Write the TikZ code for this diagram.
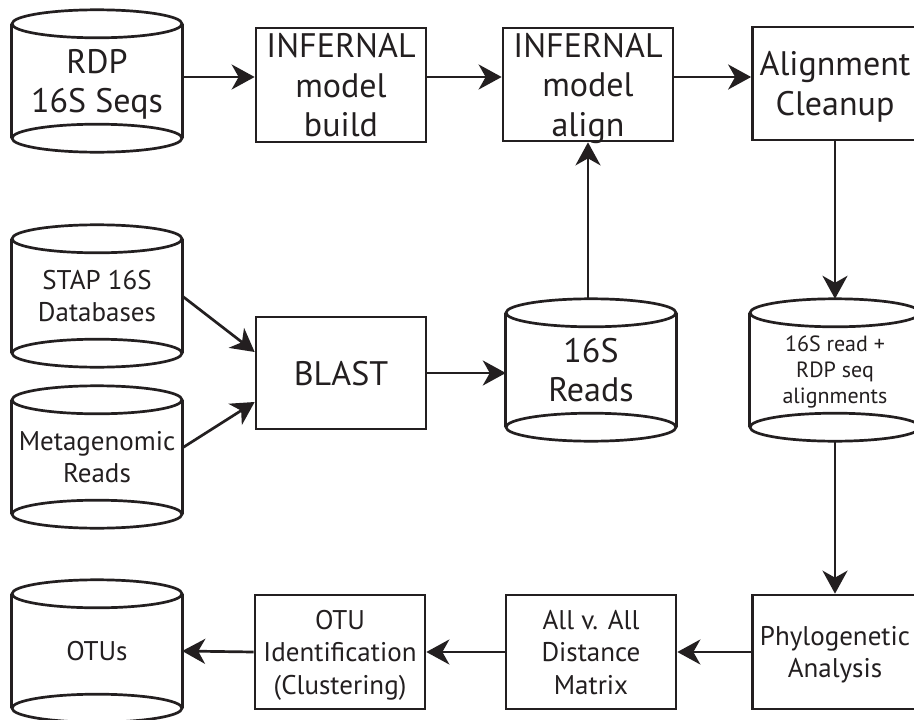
\documentclass[tikz,border=0pt]{standalone}
\usepackage{fontspec}
\setmainfont{PT Sans}
\usetikzlibrary{arrows.meta,calc}
\definecolor{ink}{HTML}{231F20}
\tikzset{
  ln/.style={draw=ink,line width=2.7pt},
  arr/.style={ln,-{Stealth[length=23pt,width=25pt,inset=7pt]}},
  boxnode/.style={ln,rectangle,minimum width=170pt,minimum height=114pt,inner sep=0pt,align=center,text=ink,text depth=0pt},
  cylnode/.style={rectangle,minimum width=170pt,minimum height=142pt,inner sep=0pt,align=center,text=ink,text depth=0pt},
  big/.style={font=\fontsize{34}{39.5}\selectfont},
  mid/.style={font=\fontsize{27}{32.5}\selectfont},
  sml/.style={font=\fontsize{22}{26}\selectfont},
}
\newcommand\cylout[1]{%
  \draw[ln] ([yshift=-14pt]#1.north) ellipse [x radius=85pt,y radius=14pt];
  \draw[ln] ([yshift=14pt]#1.south) ellipse [x radius=85pt,y radius=14pt];
  \draw[ln] ([yshift=-14pt]#1.north west) -- ([yshift=14pt]#1.south west);
  \draw[ln] ([yshift=-14pt]#1.north east) -- ([yshift=14pt]#1.south east);
}
\begin{document}
\begin{tikzpicture}[x=1pt,y=-1pt]
\useasboundingbox (0,0) rectangle (914,720);
\fill[white] (0,0) rectangle (914,720);
\clip (0,0) rectangle (914,720);
% top row
\node[cylnode,big] (rdp) at (97,81) {RDP\\16S Seqs};
\cylout{rdp}
\node[boxnode,big] (build) at (341,85) {INFERNAL\\model\\build};
\node[boxnode,big,minimum height=113pt] (align) at (588,84.5) {INFERNAL\\model\\align};
\node[boxnode,big,minimum width=165pt,minimum height=113pt] (clean) at (835,83.5) {Alignment\\Cleanup};
% middle row
\node[cylnode,mid] (stap) at (97,296) {STAP 16S\\Databases};
\cylout{stap}
\node[cylnode,mid] (meta) at (97,457) {Metagenomic\\Reads};
\cylout{meta}
\node[boxnode,big,minimum height=112pt] (blast) at (341,373) {BLAST};
\node[cylnode,big] (reads) at (591,370) {16S\\Reads};
\cylout{reads}
\node[cylnode,sml] (alnm) at (835,370) {16S read +\\RDP seq\\alignments};
\cylout{alnm}
% bottom row
\node[cylnode,mid] (otus) at (97,651) {OTUs};
\cylout{otus}
\node[boxnode,mid] (otuid) at (340,652) {OTU\\Identification\\(Clustering)};
\node[boxnode,mid] (allv) at (591,652) {All v. All\\Distance\\Matrix};
\node[boxnode,mid,minimum width=165pt] (phylo) at (835,652) {Phylogenetic\\Analysis};
% connectors
\draw[arr] ([yshift=4pt]rdp.east) -- ([yshift=8pt]build.west);
\draw[arr] ([yshift=8pt]build.east) -- ([yshift=7.5pt]align.west);
\draw[arr] ([yshift=7.5pt]align.east) -- ([yshift=6.5pt]clean.west);
\draw[arr] (clean.south) -- (alnm.north);
\draw[arr] (stap.east) -- ([yshift=21pt]blast.west);
\draw[arr] ([yshift=9pt]meta.east) -- ([yshift=-29pt]blast.west);
\draw[arr] (blast.east) -- (blast.east -| reads.west);
\draw[arr] (reads.north -| align.south) -- (align.south);
\draw[arr] (alnm.south) -- (phylo.north);
\draw[arr] (phylo.west) -- (allv.east);
\draw[arr] (allv.west) -- (otuid.east);
\draw[arr] (otuid.west) -- (otus.east);
\end{tikzpicture}
\end{document}
